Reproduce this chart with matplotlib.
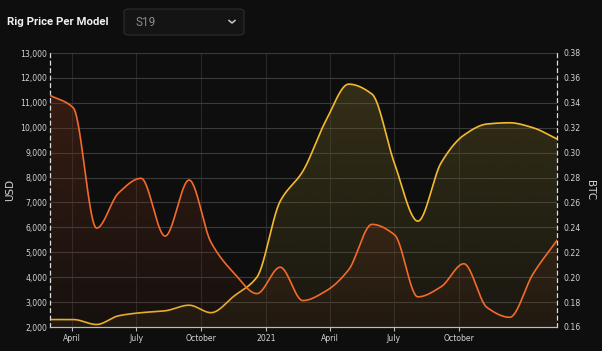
'''Rig price per model (S19): USD and BTC price over time'''
import numpy as np
import matplotlib
matplotlib.use('Agg')
import matplotlib.pyplot as plt
import matplotlib.dates as mdates
import matplotlib.colors as mcolors
from matplotlib.patches import FancyBboxPatch
from matplotlib.lines import Line2D
from matplotlib.ticker import FuncFormatter, MultipleLocator, FixedLocator

# data
dates = ['2020-03-01', '2020-04-03', '2020-05-06', '2020-06-06', '2020-07-08',
         '2020-08-11', '2020-09-14', '2020-10-15', '2020-11-17', '2020-12-19',
         '2021-01-21', '2021-02-22', '2021-03-27', '2021-04-28', '2021-05-31',
         '2021-07-02', '2021-08-04', '2021-09-06', '2021-10-08', '2021-11-10',
         '2021-12-12', '2022-01-14', '2022-02-17']
usd = [11300, 10800, 5970, 7380, 7970, 5650, 7900, 5400, 4150, 3340, 4400, 3060,
       3450, 4300, 6120, 5700, 3210, 3620, 4540, 2780, 2390, 4130, 5480]
btc = [0.166, 0.166, 0.162, 0.169, 0.1715, 0.173, 0.1775, 0.1715, 0.185, 0.200,
       0.261, 0.285, 0.326, 0.355, 0.347, 0.291, 0.245, 0.292, 0.314, 0.323,
       0.324, 0.320, 0.311]
tick_dates = ['2020-04-01', '2020-07-01', '2020-10-01', '2021-01-01',
              '2021-04-01', '2021-07-01', '2021-10-01']
tick_labels = ['April', 'July', 'October', '2021', 'April', 'July', 'October']

BG = '#0e0e0e'
ORANGE = '#f26a2c'
YELLOW = '#f4b92f'
TXT = '#d4d4d4'


def monotone(x, y, n=30):
    # monotone cubic curve through the points (line smoothing only)
    x = np.asarray(x, float)
    y = np.asarray(y, float)
    h = np.diff(x)
    d = np.diff(y) / h
    m = np.zeros_like(y)
    m[0], m[-1] = d[0], d[-1]
    for i in range(1, len(y) - 1):
        if d[i - 1] * d[i] > 0:
            w1 = 2 * h[i] + h[i - 1]
            w2 = h[i] + 2 * h[i - 1]
            m[i] = (w1 + w2) / (w1 / d[i - 1] + w2 / d[i])
    xs, ys = [], []
    for i in range(len(h)):
        t = np.linspace(0, 1, n, endpoint=False)
        h00 = 2 * t**3 - 3 * t**2 + 1
        h10 = t**3 - 2 * t**2 + t
        h01 = -2 * t**3 + 3 * t**2
        h11 = t**3 - t**2
        xs.append(x[i] + t * h[i])
        ys.append(h00 * y[i] + h10 * h[i] * m[i] + h01 * y[i + 1] + h11 * h[i] * m[i + 1])
    xs.append([x[-1]])
    ys.append([y[-1]])
    return np.concatenate(xs), np.concatenate(ys)


def gradient_fill(ax, x, y, base, top, color, a_top, a_bot, z):
    poly = ax.fill_between(x, y, base, facecolor='none', edgecolor='none')
    img = np.zeros((100, 1, 4))
    img[:, :, :3] = mcolors.to_rgb(color)
    img[:, :, 3] = np.linspace(a_top, a_bot, 100)[:, None]
    im = ax.imshow(img, aspect='auto', origin='upper', zorder=z,
                   extent=[x.min(), x.max(), base, top], interpolation='bilinear')
    im.set_clip_path(poly.get_paths()[0], transform=ax.transData)


xnum = mdates.date2num(np.array(dates, dtype='datetime64[D]'))
tnum = mdates.date2num(np.array(tick_dates, dtype='datetime64[D]'))

fig = plt.figure(figsize=(6.02, 3.51), dpi=100, facecolor=BG)
ax = fig.add_axes([50 / 602, 1 - 327 / 351, 507 / 602, 274 / 351])
ax2 = ax.twinx()
ax2.set_facecolor(BG)
ax.set_zorder(ax2.get_zorder() + 1)
ax.patch.set_visible(False)

xs, ys = monotone(xnum, usd)
xb, yb = monotone(xnum, btc)

# BTC series on the right axis
gradient_fill(ax2, xb, yb, 0.16, 0.38, '#6e6226', 0.42, 0.12, 1)
ax2.plot(xb, yb, color=YELLOW, lw=1.2, zorder=3)

# USD series on the left axis
gradient_fill(ax, xs, ys, 2000, 13000, '#7a3418', 0.42, 0.08, 1)
ax.plot(xs, ys, color=ORANGE, lw=1.2, zorder=3)

x0 = mdates.date2num(np.datetime64('2020-03-01'))
x1 = mdates.date2num(np.datetime64('2022-02-17'))
ax.set_xlim(x0, x1)
ax.set_ylim(2000, 13000)
ax2.set_ylim(0.16, 0.38)

ax.yaxis.set_major_locator(MultipleLocator(1000))
ax.yaxis.set_major_formatter(FuncFormatter(lambda v, p: f'{v:,.0f}'))
ax2.yaxis.set_major_locator(MultipleLocator(0.02))
ax2.yaxis.set_major_formatter(FuncFormatter(lambda v, p: f'{v:.2f}'))

ax.xaxis.set_major_locator(FixedLocator(tnum))
ax.set_xticklabels(tick_labels)

ax2.grid(axis='y', color='#3a3a3a', lw=0.8)
ax2.set_axisbelow(True)
for t in tnum:
    ax2.axvline(t, color='#282828', lw=0.8, zorder=0)

ax.tick_params(axis='x', colors='#bbbbbb', labelcolor=TXT, labelsize=5.6,
               length=3, width=0.8, pad=2)
ax.tick_params(axis='y', length=0, labelcolor=TXT, labelsize=5.6, pad=2)
ax2.tick_params(axis='y', length=0, labelcolor=TXT, labelsize=5.6, pad=5)
ax2.tick_params(axis='x', length=0)

for a in (ax, ax2):
    a.spines['top'].set_visible(False)
    a.spines['bottom'].set_color('#bbbbbb')
    a.spines['left'].set_visible(False)
    a.spines['right'].set_visible(False)
ax.spines['left'].set_visible(True)
ax.spines['left'].set_color('#dddddd')
ax.spines['left'].set_linestyle((0, (3, 3)))
ax.spines['left'].set_linewidth(0.9)
ax2.spines['right'].set_visible(True)
ax2.spines['right'].set_color('#dddddd')
ax2.spines['right'].set_linestyle((0, (3, 3)))
ax2.spines['right'].set_linewidth(0.9)

ax.set_ylabel('USD', color=TXT, fontsize=7.5, labelpad=4)
ax2.set_ylabel('BTC', color=TXT, fontsize=7.5, rotation=270, labelpad=10)

# header
fig.text(7 / 602, 1 - 22 / 351, 'Rig Price Per Model', color='#f0f0f0',
         fontsize=8.2, fontweight='bold', family='Roboto', va='center', ha='left')
box = FancyBboxPatch((124 / 602, 1 - 35 / 351), 120 / 602, 26 / 351,
                     boxstyle='round,pad=0,rounding_size=0.008',
                     transform=fig.transFigure, facecolor='#141414',
                     edgecolor='#2c2c2c', lw=0.8)
fig.patches.append(box)
fig.text(135 / 602, 1 - 22 / 351, 'S19', color='#8c8c8c', fontsize=8.5,
         family='Roboto', va='center', ha='left')
fig.lines.append(Line2D([229 / 602, 232 / 602, 235 / 602],
                        [1 - 20.5 / 351, 1 - 23 / 351, 1 - 20.5 / 351],
                        transform=fig.transFigure, color='#cccccc', lw=1.1))

fig.savefig('out.png', dpi=100, facecolor=BG)
